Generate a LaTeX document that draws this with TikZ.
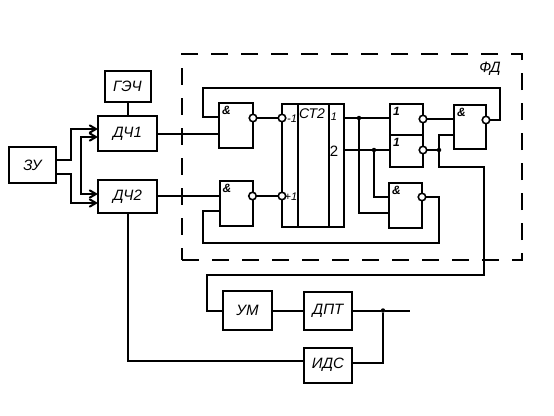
\documentclass[tikz,border=0pt]{standalone}
\usepackage{fontspec}
\setmainfont{Liberation Sans}
\usetikzlibrary{arrows,positioning,calc}
\tikzset{
    blockbox/.style={
        rectangle,
        draw=black,
        fill=white,
        line width=2pt,
        outer sep=0pt,
        inner sep=0pt,
        font=\fontsize{15}{17}\selectfont\itshape
    },
    gatebox/.style={
        blockbox,
        minimum width=33pt,
        minimum height=45pt
    },
    gatemark/.style={
        anchor=north west,
        inner sep=3pt,
        font=\fontsize{12}{13}\selectfont\bfseries\itshape
    },
    cntmark/.style={
        inner sep=0pt,
        font=\fontsize{11}{12}\selectfont\itshape
    },
    bubble/.style={
        circle,
        draw=black,
        fill=white,
        line width=1.6pt,
        minimum size=7.5pt,
        inner sep=0pt,
        outer sep=0pt
    },
    joint/.style={
        circle,
        fill=black,
        minimum size=4.5pt,
        inner sep=0pt
    },
    wire/.style={
        line width=2pt,
        draw=black
    },
    fdbox/.style={
        rectangle,
        draw=black,
        line width=2pt,
        dash pattern=on 17pt off 13pt,
        minimum width=340pt,
        minimum height=206pt,
        outer sep=0pt
    }
}
\begin{document}
\begin{tikzpicture}[x=1pt,y=-1pt,>=angle 60]
    \useasboundingbox (0,0) rectangle (554,415);

    % outer dashed frame
    \node[fdbox] (fd) at (352,157) {};
    \node[inner sep=0pt,font=\fontsize{15}{16}\selectfont\itshape] (fdtext) at (490,69) {ФД};

    % left part
    \node[blockbox, minimum width=47pt, minimum height=36pt] (zu) at (32.5,165) {ЗУ};
    \node[blockbox, minimum width=59pt, minimum height=35pt] (dch1) at (127.5,133.5) {ДЧ1};
    \node[blockbox, minimum width=59pt, minimum height=33pt, below=29pt of dch1] (dch2) {ДЧ2};
    \node[blockbox, minimum width=46pt, minimum height=31pt, above=14pt of dch1] (gen) {ГЭЧ};

    % gates
    \node[gatebox, minimum width=34pt] (and1) at (236,125.5) {};
    \node[gatebox, minimum width=33pt, below=33pt of and1] (and2) {};
    \node[gatemark] (and1m) at (and1.north west) {\&};
    \node[gatemark] (and2m) at (and2.north west) {\&};
    \node[bubble] (and1o) at (and1.east |- 0,118) {};
    \node[bubble] (and2o) at (and2.east |- 0,196) {};

    % counter, three columns
    \node[blockbox, minimum width=16pt, minimum height=123pt] (cnta) at (290,165.5) {};
    \node[blockbox, minimum width=31pt, minimum height=123pt, right=0pt of cnta] (cntb) {};
    \node[blockbox, minimum width=15pt, minimum height=123pt, right=0pt of cntb] (cntc) {};
    \node[bubble] (cntm) at (cnta.west |- 0,118) {};
    \node[bubble] (cntp) at (cnta.west |- 0,196) {};
    \node[cntmark] (cntmt) at (292,119) {-1};
    \node[cntmark] (cntpt) at (291,197) {+1};
    \node[cntmark, font=\fontsize{14}{15}\selectfont\itshape] (cntname) at (312,114) {СТ2};
    \node[cntmark] (cntone) at (334,117) {1};
    \node[cntmark, font=\fontsize{15}{16}\selectfont] (cnttwo) at (334,151) {2};

    % gates on the right
    \node[gatebox, minimum height=31pt] (or1) at (406.5,119.5) {};
    \node[gatebox, minimum height=32pt, below=0pt of or1] (or2) {};
    \node[gatebox, minimum width=32pt, minimum height=44pt] (and3) at (470,127) {};
    \node[gatebox, minimum height=45pt] (and4) at (405.5,205.5) {};
    \node[gatemark] (or1m) at (or1.north west) {1};
    \node[gatemark] (or2m) at (or2.north west) {1};
    \node[gatemark] (and3m) at (and3.north west) {\&};
    \node[gatemark] (and4m) at (and4.north west) {\&};
    \node[bubble] (or1o) at (or1.east |- 0,119) {};
    \node[bubble] (or2o) at (or2.east |- 0,150) {};
    \node[bubble] (and3o) at (and3.east |- 0,120) {};
    \node[bubble] (and4o) at (and4.east |- 0,197) {};

    % bottom part
    \node[blockbox, minimum width=49pt, minimum height=39pt] (um) at (247.5,310.5) {УМ};
    \node[blockbox, minimum width=48pt, minimum height=38pt, right=32pt of um] (dpt) {ДПТ};
    \node[blockbox, minimum width=48pt, minimum height=35pt, below=18pt of dpt] (ids) {ИДС};

    % joints and free ends
    \node[joint] (j1) at (359,118) {};
    \node[joint] (j2) at (374,150) {};
    \node[joint] (j3) at (439,150) {};
    \node[joint] (j4) at (dpt.east -| 383,0) {};
    \coordinate (shaft) at (dpt.east -| 410,0);

    % inputs
    \draw[wire] (gen) -- (gen |- dch1.north);
    \draw[wire,->] (zu.east |- 0,160) -- (71,160) |- (dch1.west |- 0,129);
    \draw[wire,->] (zu.east |- 0,174) -- (71,174) |- (dch2.west |- 0,203);
    \draw[wire,<->] (dch1.west |- 0,137) -| (81,166) |- (dch2.west |- 0,194);
    \draw[wire] (dch1.east) -- (dch1.east -| and1.west);
    \draw[wire] (dch2.east |- 0,196) -- (and2.west |- 0,196);
    \draw[wire] (dch2.south) |- (ids.west |- 0,361);

    % gates to counter
    \draw[wire] (and1o) -- (cntm);
    \draw[wire] (and2o) -- (cntp);

    % counter to the right gates
    \draw[wire] (cntc.east |- j1) -- (j1) -- (or1.west |- j1);
    \draw[wire] (cntc.east |- j2) -- (j2) -- (or2.west |- j2);
    \draw[wire] (j1) |- (and4.west |- 0,213);
    \draw[wire] (j2) |- (and4.west |- 0,197);
    \draw[wire] (or1o) -- (and3.west |- or1o);
    \draw[wire] (or2o) -- (j3);
    \draw[wire] (and3.west |- 0,135) -| (j3);
    \draw[wire] (j3) |- (484,167) |- (207,275) |- (um.west);

    % feedback loops
    \draw[wire] (and3o) -| (500,88) -| (203,117) -- (and1.west |- 0,117);
    \draw[wire] (and4o) -| (439,243) -| (203,211) -- (and2.west |- 0,211);

    % bottom wires
    \draw[wire] (um) -- (dpt);
    \draw[wire] (dpt.east) -- (j4) -- (shaft);
    \draw[wire] (ids.east |- 0,363) -| (j4);
\end{tikzpicture}
\end{document}
